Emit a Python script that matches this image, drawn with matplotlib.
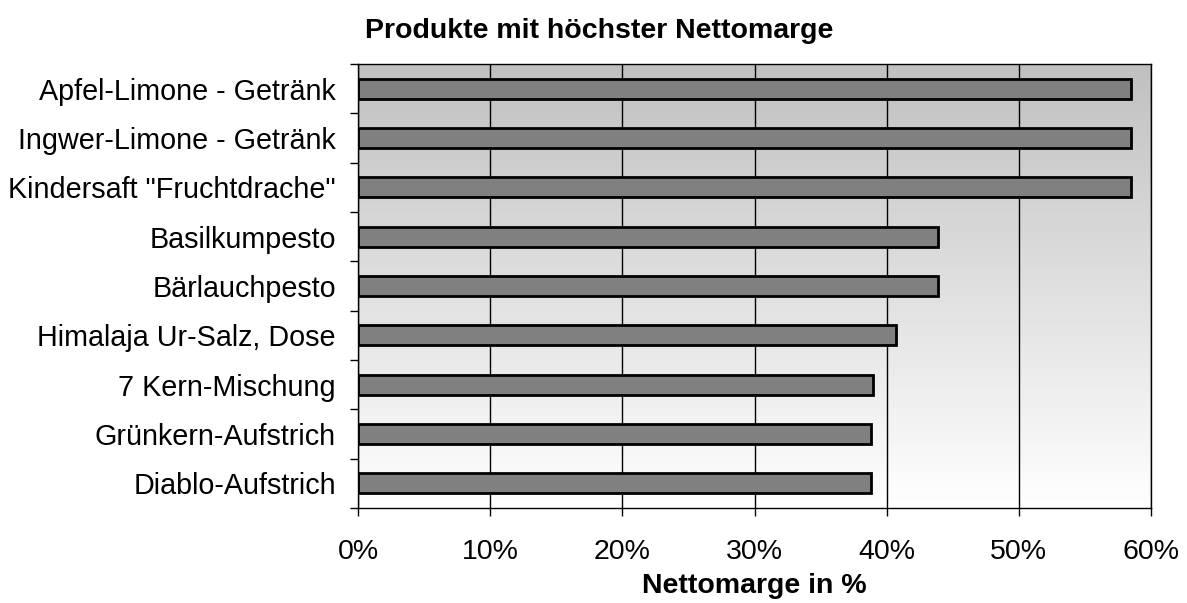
import numpy as np
import matplotlib.pyplot as plt
from matplotlib.ticker import FuncFormatter, FixedLocator

# Chart data
products = [
    "Apfel-Limone - Getränk",
    "Ingwer-Limone - Getränk",
    'Kindersaft "Fruchtdrache"',
    "Basilkumpesto",
    "Bärlauchpesto",
    "Himalaja Ur-Salz, Dose",
    "7 Kern-Mischung",
    "Grünkern-Aufstrich",
    "Diablo-Aufstrich",
]
margin = [0.585, 0.585, 0.585, 0.439, 0.439, 0.407, 0.390, 0.388, 0.388]
xticks = [0.0, 0.1, 0.2, 0.3, 0.4, 0.5, 0.6]

plt.rcParams['font.family'] = ['Liberation Sans', 'DejaVu Sans']

fig = plt.figure(figsize=(11.87, 6.03), dpi=100)
ax = fig.add_axes([0.3016, 0.1575, 0.9697 - 0.3016, 0.8939 - 0.1575])

# gradient background of the plot area (grey at top, white at bottom)
grad = np.linspace(0, 1, 256).reshape(-1, 1)
ax.imshow(grad, cmap=plt.cm.colors.LinearSegmentedColormap.from_list("g", ["#c0c0c0", "#ffffff"]),
          aspect="auto", extent=[0, 1, 0, 1], transform=ax.transAxes, zorder=0)

y = np.arange(len(products))
ax.barh(y, margin, height=0.41, color="#808080", edgecolor="black", linewidth=2.0, zorder=3)

ax.set_xlim(0, 0.6)
ax.set_ylim(len(products) - 0.5, -0.5)

ax.set_xticks(xticks)
ax.xaxis.set_major_formatter(FuncFormatter(lambda v, p: f"{v * 100:.0f}%"))
ax.grid(axis="x", color="black", linewidth=1.0, zorder=1)

ax.set_yticks(y)
ax.set_yticklabels(products)
ax.yaxis.set_minor_locator(FixedLocator(np.arange(-0.5, len(products), 1.0)))
ax.tick_params(axis="y", which="major", length=0, pad=16, labelsize=20.7)
ax.tick_params(axis="y", which="minor", length=6, width=1, direction="out")
ax.tick_params(axis="x", which="major", length=6, width=1, direction="out", pad=16, labelsize=20.5)

for s in ax.spines.values():
    s.set_linewidth(1.0)
    s.set_color("black")

ax.set_xlabel("Nettomarge in %", fontsize=20.5, fontweight="bold", labelpad=6)
fig.text(0.505, 0.948, "Produkte mit höchster Nettomarge", ha="center", va="center",
         fontsize=20.5, fontweight="bold")

plt.savefig("out.png", dpi=100)
